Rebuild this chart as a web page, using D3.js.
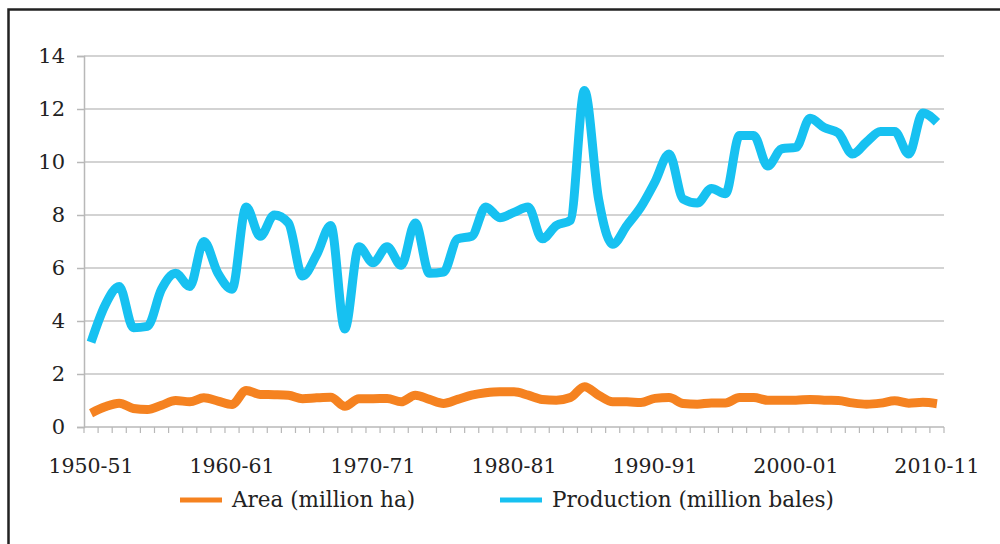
<!DOCTYPE html>
<html lang="en">
<head>
  <meta charset="UTF-8">
  <title>Cotton area and production</title>
  <style>
    body { margin: 0; background: #fff; }
    #chart text { font-family: "DejaVu Serif", serif; fill: #222; }
  </style>
</head>
<body>
<svg id="chart" width="1000" height="544"></svg>

<script src="https://d3js.org/d3.v7.min.js"></script>
<script>
// seasons 1950-51 .. 2010-11
const years = d3.range(1950, 2011);
const seasons = years.map(y => y + "-" + String((y + 1) % 100).padStart(2, "0"));
const labelSeasons = ["1950-51", "1960-61", "1970-71", "1980-81", "1990-91", "2000-01", "2010-11"];
const yTicks = [0, 2, 4, 6, 8, 10, 12, 14];

// million ha
const area = [
  0.52, 0.76, 0.9, 0.7, 0.66, 0.82, 1.0, 0.95, 1.1, 0.98,
  0.85, 1.38, 1.23, 1.22, 1.2, 1.07, 1.1, 1.12, 0.78, 1.07,
  1.07, 1.08, 0.95, 1.2, 1.04, 0.89, 1.04, 1.2, 1.29, 1.33,
  1.33, 1.2, 1.04, 1.01, 1.11, 1.52, 1.2, 0.95, 0.95, 0.92,
  1.08, 1.11, 0.89, 0.86, 0.91, 0.91, 1.11, 1.11, 1.01, 1.01,
  1.01, 1.04, 1.01, 1.0, 0.91, 0.86, 0.9, 0.99, 0.9, 0.93,
  0.88
];

// million bales
const production = [
  3.2, 4.6, 5.3, 3.75, 3.8, 5.2, 5.8, 5.3, 7.0, 5.8,
  5.2, 8.3, 7.2, 8.0, 7.7, 5.7, 6.5, 7.6, 3.7, 6.8,
  6.2, 6.8, 6.1, 7.7, 5.8, 5.85, 7.1, 7.2, 8.3, 7.9,
  8.1, 8.3, 7.1, 7.6, 7.8, 12.7, 8.6, 6.9, 7.6, 8.3,
  9.25, 10.3, 8.6, 8.45, 9.0, 8.8, 11.0, 11.0, 9.85, 10.5,
  10.55, 11.65, 11.3, 11.1, 10.3, 10.75, 11.15, 11.15, 10.3, 11.85,
  11.5
];

const series = [
  { name: "Area (million ha)", values: area, color: "#f58220" },
  { name: "Production (million bales)", values: production, color: "#17c1f1" }
];

const svg = d3.select("#chart");
const plotL = 84, plotR = 944, plotT = 56, plotB = 427;

svg.append("rect").attr("width", 1000).attr("height", 544).attr("fill", "#fff");
// outer frame, cut by the picture edge on the right and bottom
svg.append("rect")
  .attr("x", 8.5).attr("y", 9.5).attr("width", 1020).attr("height", 560)
  .attr("fill", "none").attr("stroke", "#222").attr("stroke-width", 2.5);

const x = d3.scaleBand().domain(seasons).range([plotL, plotR]);
const xc = s => x(s) + x.bandwidth() / 2;
const y = d3.scaleLinear().domain([0, 14]).range([plotB, plotT]);

// grid
svg.append("g")
  .selectAll("line")
  .data(yTicks.filter(d => d > 0))
  .join("line")
    .attr("x1", plotL).attr("x2", plotR)
    .attr("y1", d => y(d)).attr("y2", d => y(d))
    .attr("stroke", "#c4c4c4").attr("stroke-width", 1.5);

// y axis
const yAxis = svg.append("g")
  .attr("transform", `translate(${plotL},0)`)
  .call(d3.axisLeft(y).tickValues(yTicks).tickSize(7).tickPadding(12));
yAxis.select(".domain").attr("stroke", "#b8b8b8").attr("stroke-width", 1.5);
yAxis.selectAll(".tick line").attr("stroke", "#b8b8b8").attr("stroke-width", 1.5);
yAxis.selectAll("text").attr("font-size", 21).attr("fill", "#222");

// x axis: tick marks at category boundaries, labels every ten seasons
const xg = svg.append("g").attr("transform", `translate(0,${plotB})`);
xg.append("line").attr("x1", plotL).attr("x2", plotR)
  .attr("stroke", "#b8b8b8").attr("stroke-width", 1.5);
xg.selectAll("line.tk")
  .data(seasons.concat(["end"]))
  .join("line")
    .attr("class", "tk")
    .attr("x1", (d, i) => plotL + i * x.step()).attr("x2", (d, i) => plotL + i * x.step())
    .attr("y1", 0).attr("y2", 6)
    .attr("stroke", "#b8b8b8").attr("stroke-width", 1.2);
xg.selectAll("text")
  .data(labelSeasons)
  .join("text")
    .attr("x", d => xc(d)).attr("y", 46)
    .attr("text-anchor", "middle").attr("font-size", 20.5)
    .text(d => d);

// lines
const line = d3.line()
  .x((d, i) => xc(seasons[i]))
  .y(d => y(d))
  .curve(d3.curveMonotoneX);

svg.append("g")
  .selectAll("path")
  .data(series)
  .join("path")
    .attr("d", d => line(d.values))
    .attr("fill", "none")
    .attr("stroke", d => d.color)
    .attr("stroke-width", 9)
    .attr("stroke-linejoin", "round");

// legend
const legendPos = [180, 500];
const lg = svg.append("g").selectAll("g")
  .data(series)
  .join("g")
    .attr("transform", (d, i) => `translate(${legendPos[i]},500)`);
lg.append("line").attr("x1", 0).attr("x2", 42)
  .attr("stroke", d => d.color).attr("stroke-width", 5);
lg.append("text").attr("x", 52).attr("y", 7).attr("font-size", 21.5).text(d => d.name);
</script>
</body>
</html>
